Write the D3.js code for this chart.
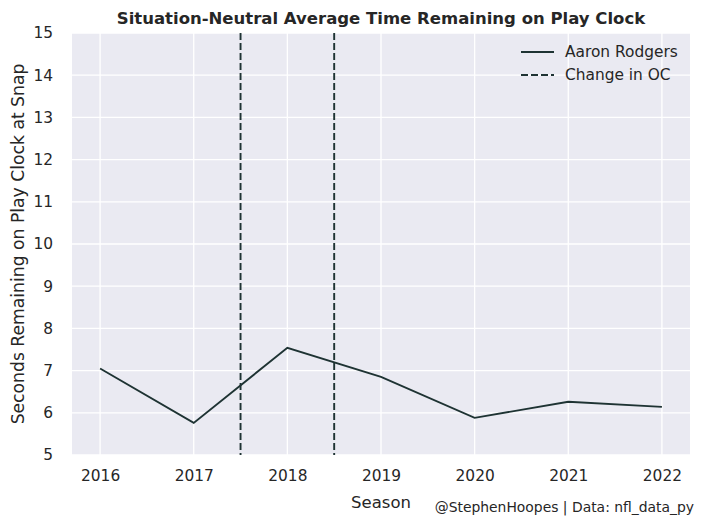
<!DOCTYPE html>
<html>
<head>
<meta charset="utf-8">
<script src="https://cdn.jsdelivr.net/npm/d3@7"></script>
<style>
  body { margin: 0; background: #fff; }
  text { font-family: "DejaVu Sans", sans-serif; fill: #262626; }
</style>
</head>
<body>
<div id="chart"></div>
<script>
var seasons = [2016, 2017, 2018, 2019, 2020, 2021, 2022];
var secondsRemaining = [7.05, 5.76, 7.54, 6.85, 5.88, 6.26, 6.14];
var ocChanges = [2017.5, 2018.5];
var yTicks = [5, 6, 7, 8, 9, 10, 11, 12, 13, 14, 15];

var W = 704, H = 524;
var margin = {left: 72, right: 14, top: 33, bottom: 69};
var lineColor = "#1e3333";

var svg = d3.select("#chart").append("svg")
    .attr("width", W)
    .attr("height", H);

var x = d3.scaleLinear()
    .domain([2015.7, 2022.3])
    .range([margin.left, W - margin.right]);

var y = d3.scaleLinear()
    .domain([5, 15])
    .range([H - margin.bottom, margin.top]);

// background
svg.append("rect")
    .attr("x", margin.left)
    .attr("y", margin.top)
    .attr("width", W - margin.left - margin.right)
    .attr("height", H - margin.top - margin.bottom)
    .attr("fill", "#eaeaf2");

// grid
svg.append("g").selectAll("line")
    .data(seasons)
    .enter().append("line")
    .attr("x1", function (d) { return x(d); })
    .attr("x2", function (d) { return x(d); })
    .attr("y1", margin.top)
    .attr("y2", H - margin.bottom)
    .attr("stroke", "#fff")
    .attr("stroke-width", 1.3);

svg.append("g").selectAll("line")
    .data(yTicks)
    .enter().append("line")
    .attr("x1", margin.left)
    .attr("x2", W - margin.right)
    .attr("y1", function (d) { return y(d); })
    .attr("y2", function (d) { return y(d); })
    .attr("stroke", "#fff")
    .attr("stroke-width", 1.3);

// axes, no domain line, no ticks
var xAxis = svg.append("g")
    .attr("transform", "translate(0," + (H - margin.bottom) + ")")
    .call(d3.axisBottom(x).tickValues(seasons).tickFormat(d3.format("d")).tickSize(0).tickPadding(15));
var yAxis = svg.append("g")
    .attr("transform", "translate(" + margin.left + ",0)")
    .call(d3.axisLeft(y).tickValues(yTicks).tickSize(0).tickPadding(19));
[xAxis, yAxis].forEach(function (a) {
    a.select(".domain").remove();
    a.selectAll("text").attr("font-size", 15.4).attr("fill", "#262626")
        .attr("font-family", "DejaVu Sans, sans-serif");
});

// change in OC lines
svg.append("g").selectAll("line")
    .data(ocChanges)
    .enter().append("line")
    .attr("x1", function (d) { return x(d); })
    .attr("x2", function (d) { return x(d); })
    .attr("y1", margin.top)
    .attr("y2", H - margin.bottom)
    .attr("stroke", lineColor)
    .attr("stroke-width", 1.9)
    .attr("stroke-dasharray", "7,3");

// main line
var line = d3.line()
    .x(function (d, i) { return x(seasons[i]); })
    .y(function (d) { return y(d); });

svg.append("path")
    .datum(secondsRemaining)
    .attr("d", line)
    .attr("fill", "none")
    .attr("stroke", lineColor)
    .attr("stroke-width", 1.9);

// title and labels
svg.append("text")
    .attr("x", (margin.left + W - margin.right) / 2)
    .attr("y", 24)
    .attr("text-anchor", "middle")
    .attr("font-size", 16.5)
    .attr("font-weight", "bold")
    .text("Situation-Neutral Average Time Remaining on Play Clock");

svg.append("text")
    .attr("x", (margin.left + W - margin.right) / 2)
    .attr("y", 508)
    .attr("text-anchor", "middle")
    .attr("font-size", 16.5)
    .text("Season");

svg.append("text")
    .attr("transform", "translate(24," + ((margin.top + H - margin.bottom) / 2) + ") rotate(-90)")
    .attr("text-anchor", "middle")
    .attr("font-size", 17.2)
    .text("Seconds Remaining on Play Clock at Snap");

svg.append("text")
    .attr("x", 694)
    .attr("y", 512)
    .attr("text-anchor", "end")
    .attr("font-size", 13.9)
    .text("@StephenHoopes | Data: nfl_data_py");

// legend
var legendItems = [
    {label: "Aaron Rodgers", dash: null},
    {label: "Change in OC", dash: "7,3"}
];
var lg = svg.append("g").selectAll("g")
    .data(legendItems)
    .enter().append("g")
    .attr("transform", function (d, i) { return "translate(521," + (52 + i * 23) + ")"; });
lg.append("line")
    .attr("x1", 0).attr("x2", 33)
    .attr("stroke", lineColor)
    .attr("stroke-width", 1.9)
    .attr("stroke-dasharray", function (d) { return d.dash; });
lg.append("text")
    .attr("x", 44)
    .attr("dy", "0.35em")
    .attr("font-size", 15.4)
    .text(function (d) { return d.label; });
</script>
</body>
</html>
